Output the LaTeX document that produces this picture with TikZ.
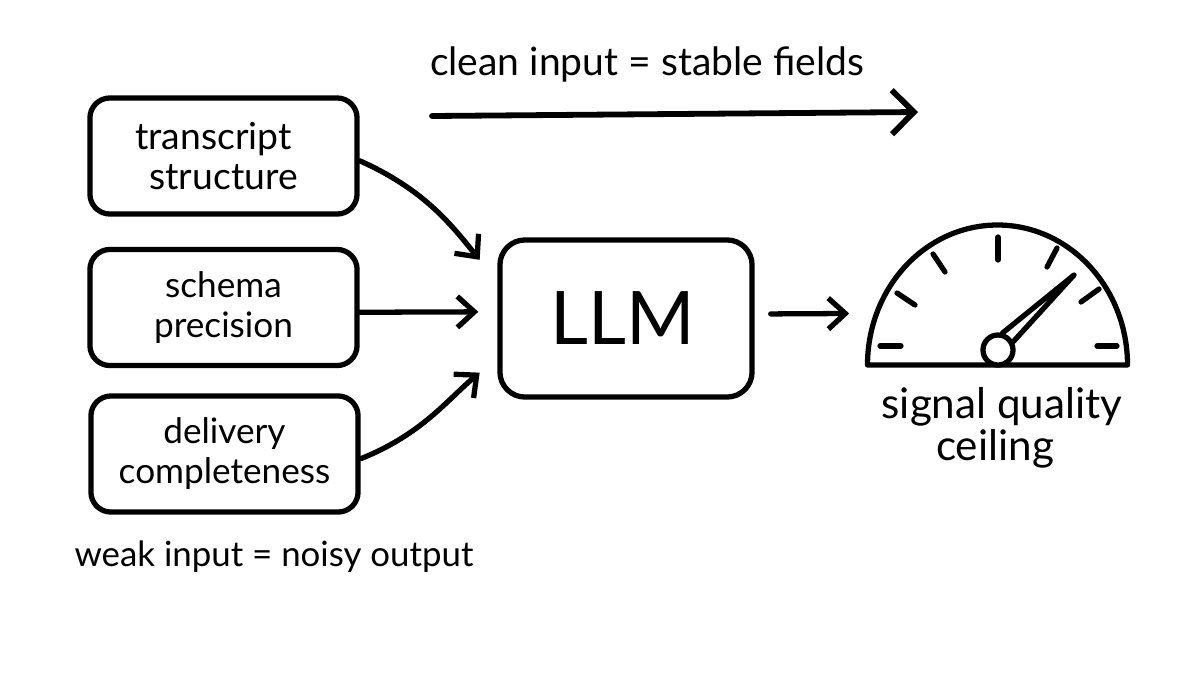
\documentclass[tikz,border=0pt]{standalone}
\usepackage{fontspec}
\setmainfont{Lato}
\usetikzlibrary{arrows.meta}

\tikzset{
  sketch/.style={line width=1.5pt, line cap=round, line join=round},
  flow/.style={sketch, -{Straight Barb[length=1.7mm,width=3.1mm,line width=1.5pt]}},
  bigflow/.style={sketch, line width=1.65pt, -{Straight Barb[length=2.2mm,width=4.4mm,line width=1.65pt]}},
  inputbox/.style={sketch, draw, rounded corners=2mm, minimum width=2.67cm, minimum height=1.16cm, inner sep=0pt, align=center,
    font=\fontsize{10}{11.4}\selectfont},
  note/.style={inner sep=0pt, align=center},
}

\begin{document}
\begin{tikzpicture}[x=.01cm,y=-.01cm]

  \useasboundingbox (0,0) rectangle (1200,675);

  % The input boxes
  \node [inputbox, font=\fontsize{10.6}{11.6}\selectfont] (transcript) at (223.5,156) {\hspace*{-.2cm}transcript\\structure};
  \node [inputbox] (schema) at (223.5,307.5) {schema\\precision};
  \node [inputbox] (delivery) at (224.5,454) {delivery\\completeness};

  % The model box
  \node [sketch, draw, rounded corners=2.5mm, minimum width=2.52cm, minimum height=1.57cm, inner sep=0pt,
    font=\fontsize{21}{24}\selectfont] (llm) at (626,318.5) {\raisebox{-1pt}{LLM}\kern 2pt};

  % Space taken by the gauge
  \node [minimum width=2.6cm, minimum height=1.4cm, inner sep=0pt] (gauge) at (998,295) {};

  % The notes
  \node [note, font=\fontsize{11.1}{13}\selectfont] (clean) at (647,64) {clean input = stable fields};
  \node [note, font=\fontsize{9.9}{12}\selectfont] (weak) at (274,557) {weak input = noisy output};
  \node [note, font=\fontsize{12}{12}\selectfont] (ceiling) at (1002,428) {signal quality\\\hspace*{-.14cm}ceiling};

  % The top arrow
  \coordinate (cleanstart) at (432,116);
  \coordinate (cleanend) at (918,112);
  \draw [bigflow] (cleanstart) -- (cleanend);

  % The inputs into the model
  \draw [flow, shorten >=.28cm] (transcript.-2) to [out=-24,in=129] (llm.164);
  \draw [flow, shorten >=.19cm] (schema.-2) -- (llm.177);
  \draw [flow, shorten >=.23cm] (delivery.-2) to [out=22,in=-140] (llm.197);

  % The output into the gauge
  \draw [flow, shorten <=.16cm, shorten >=.18cm] (llm.2) -- (gauge.188);

  % The gauge
  \draw [sketch] (867.5,365) arc [start angle=180,end angle=360,x radius=130,y radius=140] -- cycle;

  % The ticks
  \foreach \xa/\ya/\xb/\yb in {880/346/901/346, 897/293/915/305, 933/254/945/272, 998/237/998/260,
                               1057/248/1047/267, 1099/289/1081/302, 1097/346/1117/346}
    \draw [sketch] (\xa,\ya) -- (\xb,\yb);

  % The needle
  \coordinate (tip) at (1074,275);
  \node [sketch, draw, fill=white, circle, minimum size=.3cm, inner sep=0pt] (hub) at (998,350) {};
  \draw [sketch] (hub.75) -- (tip) -- (hub.29);

\end{tikzpicture}
\end{document}
